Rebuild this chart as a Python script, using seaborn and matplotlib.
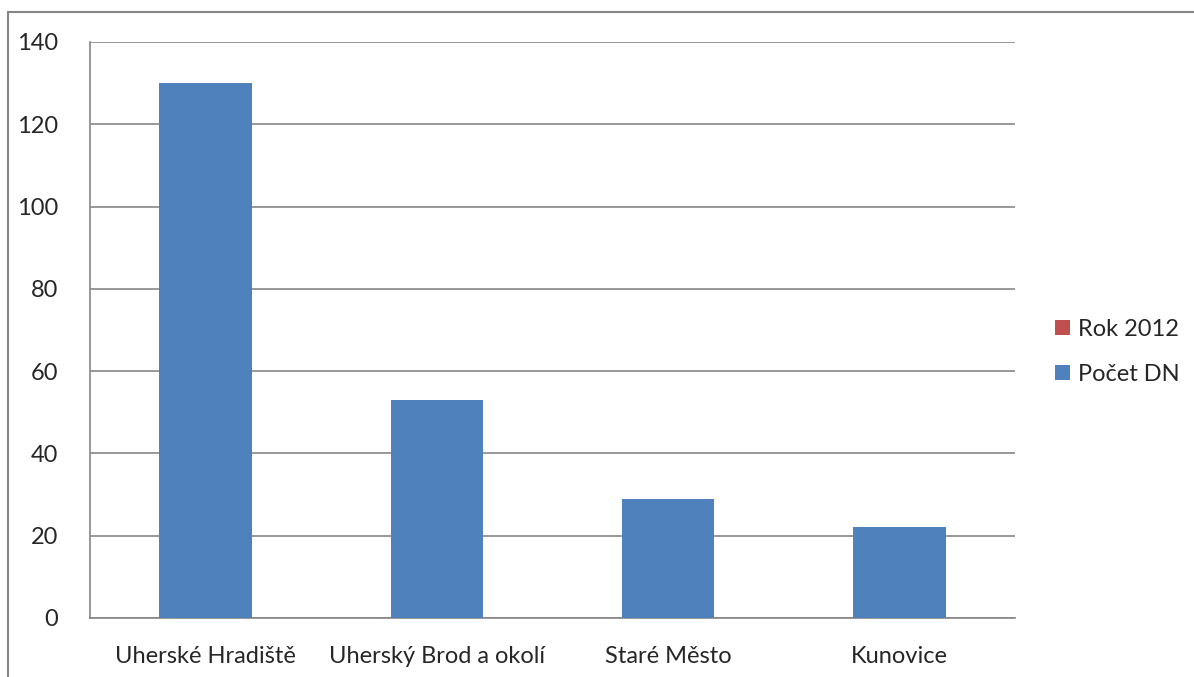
import numpy as np
import pandas as pd
import seaborn as sns
from matplotlib import pyplot as plt
from matplotlib.patches import Patch
from matplotlib.lines import Line2D

categories = ["Uherské Hradiště", "Uherský Brod a okolí", "Staré Město", "Kunovice"]
pocet_dn = [130, 53, 29, 22]
series_names = ["Rok 2012", "Počet DN"]
series_colors = ["#C0504D", "#4F81BD"]
y_ticks = [0, 20, 40, 60, 80, 100, 120, 140]

sns.set_style("white")
plt.rcParams["font.family"] = ["Lato", "DejaVu Sans"]

GRID = "#868686"
FS = 17

df = pd.DataFrame({"kategorie": categories, "pocet": pocet_dn})

fig = plt.figure(figsize=(11.94, 6.77), dpi=100)
ax = fig.add_axes([0.0754, 0.0872, 0.7746, 0.8508])

sns.barplot(data=df, x="kategorie", y="pocet", color=series_colors[1],
            width=0.4, saturation=1, linewidth=0, ax=ax, zorder=3)

ax.set_ylim(0, 140)
ax.set_xlim(-0.5, len(categories) - 0.5)
ax.set_yticks(y_ticks)
ax.grid(axis="y", color=GRID, linewidth=1.2, zorder=0)
ax.set_axisbelow(True)
ax.set_xlabel("")
ax.set_ylabel("")

for side in ["top", "right"]:
    ax.spines[side].set_visible(False)
for side in ["left", "bottom"]:
    ax.spines[side].set_color(GRID)
    ax.spines[side].set_linewidth(1.2)

ax.tick_params(axis="y", direction="out", length=10, width=1.2, color=GRID,
               labelsize=FS, pad=13)
ax.tick_params(axis="x", which="major", length=0, labelsize=FS, pad=20)
ax.set_xticks(np.arange(-0.5, len(categories)), minor=True)
ax.tick_params(axis="x", which="minor", direction="out", length=10, width=1.2, color=GRID)

handles = [Patch(facecolor=c, edgecolor="none") for c in series_colors]
fig.legend(handles, series_names, loc="center left", bbox_to_anchor=(0.872, 0.48),
           frameon=False, fontsize=FS, handlelength=0.6, handleheight=0.6,
           handletextpad=0.35, labelspacing=1.0, borderaxespad=0.2)

# chart area border (Excel style)
fig.add_artist(Line2D([8 / 1194, 1.0], [1 - 12 / 677, 1 - 12 / 677],
                      transform=fig.transFigure, color=GRID, linewidth=1.5))
fig.add_artist(Line2D([8 / 1194, 8 / 1194], [0.0, 1 - 12 / 677],
                      transform=fig.transFigure, color=GRID, linewidth=1.5))

fig.savefig("out.png", dpi=100)
